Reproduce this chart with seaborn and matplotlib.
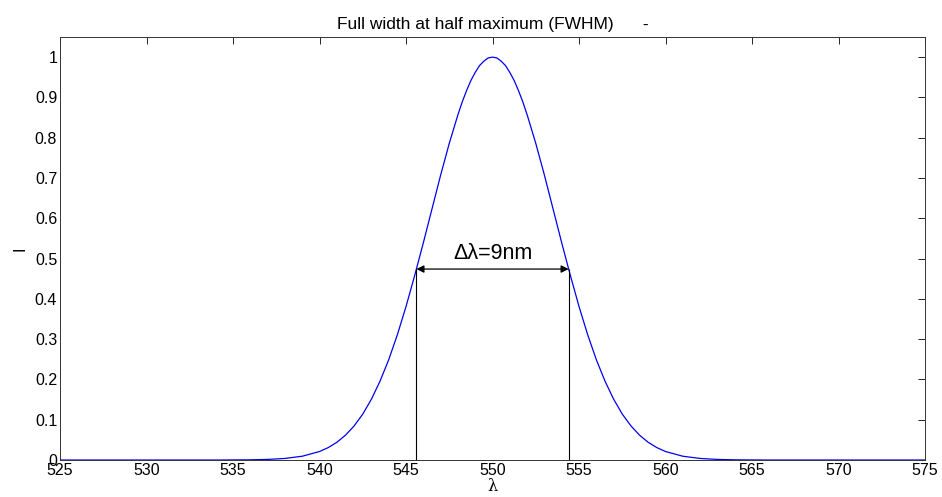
import numpy as np
import pandas as pd
import matplotlib
matplotlib.use("Agg")
import matplotlib.pyplot as plt
import seaborn as sns

# Wavelength samples (nm) and intensity
wavelength = [525, 526, 527, 528, 529, 530, 531, 532, 533, 534, 535, 536, 537, 538, 539,
              540, 540.5, 541, 541.5, 542, 542.5, 543, 543.5, 544, 544.5, 545, 545.5,
              546, 546.5, 547, 547.5, 548, 548.25, 548.5, 548.75, 549, 549.25, 549.5,
              549.75, 550, 550.25, 550.5, 550.75, 551, 551.25, 551.5, 551.75,
              552, 552.5, 553, 553.5, 554, 554.5, 555, 555.5, 556, 556.5, 557, 557.5,
              558, 558.5, 559, 559.5, 560, 561, 562, 563, 564, 565, 566, 567, 568, 569,
              570, 571, 572, 573, 574, 575]
intensity = [0, 0, 0, 0, 0, 0, 0, 0, 0, 0, 0.0002, 0.0005, 0.0015, 0.0039, 0.0094,
             0.0211, 0.0308, 0.0439, 0.0616, 0.0847, 0.114, 0.151, 0.196, 0.249, 0.311,
             0.381, 0.458, 0.539, 0.623, 0.707, 0.786, 0.857, 0.889, 0.917, 0.942,
             0.962, 0.979, 0.990, 0.998, 1.0, 0.998, 0.990, 0.979, 0.962, 0.942, 0.917,
             0.889, 0.857, 0.786, 0.707, 0.623, 0.539, 0.458, 0.381, 0.311,
             0.249, 0.196, 0.151, 0.114, 0.0847, 0.0616, 0.0439, 0.0308, 0.0211, 0.0094,
             0.0039, 0.0015, 0.0005, 0.0002, 0, 0, 0, 0, 0, 0, 0, 0, 0, 0]

# Half-maximum markers
fwhm_left = 545.6
fwhm_right = 554.4
fwhm_level = 0.474
fwhm_label = "Δλ=9nm"

x_ticks = [525, 530, 535, 540, 545, 550, 555, 560, 565, 570, 575]
y_ticks = [0, 0.1, 0.2, 0.3, 0.4, 0.5, 0.6, 0.7, 0.8, 0.9, 1]
y_tick_labels = ["0", "0.1", "0.2", "0.3", "0.4", "0.5", "0.6", "0.7", "0.8", "0.9", "1"]

title = "Full width at half maximum (FWHM)      -"

sns.set_theme(style="white")
plt.rcParams["font.family"] = ["Liberation Sans", "DejaVu Sans"]
plt.rcParams["text.color"] = "black"
plt.rcParams["axes.labelcolor"] = "black"

df = pd.DataFrame({"wavelength": wavelength, "intensity": intensity})

fig = plt.figure(figsize=(9.42, 4.97), dpi=100)
ax = fig.add_axes([0.0637, 0.0744, 0.9183, 0.8512])

sns.lineplot(data=df, x="wavelength", y="intensity", ax=ax, color="#0000ee",
             linewidth=0.9, estimator=None, sort=False)

ax.vlines([fwhm_left, fwhm_right], 0, fwhm_level, color="black", linewidth=0.8)
ax.annotate("", xy=(fwhm_left, fwhm_level), xytext=(fwhm_right, fwhm_level),
            arrowprops=dict(arrowstyle="<|-|>", color="black", lw=0.9,
                            mutation_scale=11, shrinkA=0, shrinkB=0))
ax.text((fwhm_left + fwhm_right) / 2, fwhm_level + 0.012, fwhm_label,
        ha="center", va="bottom", fontsize=15.5, color="black")

ax.set_xlim(525, 575)
ax.set_ylim(0, 1.05)
ax.set_xticks(x_ticks)
ax.set_yticks(y_ticks)
ax.set_yticklabels(y_tick_labels)
ax.tick_params(direction="in", length=5, width=0.6, top=True, right=True,
               labelsize=11.5, colors="black", pad=2)
for s in ax.spines.values():
    s.set_linewidth(0.7)
    s.set_color("#333333")

ax.set_xlabel("λ", fontsize=11.5, labelpad=0, family=["DejaVu Serif"], color="black")
ax.set_ylabel("I", fontsize=11.5, labelpad=5, color="black")
ax.set_title(title, fontsize=12.5, pad=6, color="black")

fig.savefig("out.png", dpi=100, facecolor="white")
